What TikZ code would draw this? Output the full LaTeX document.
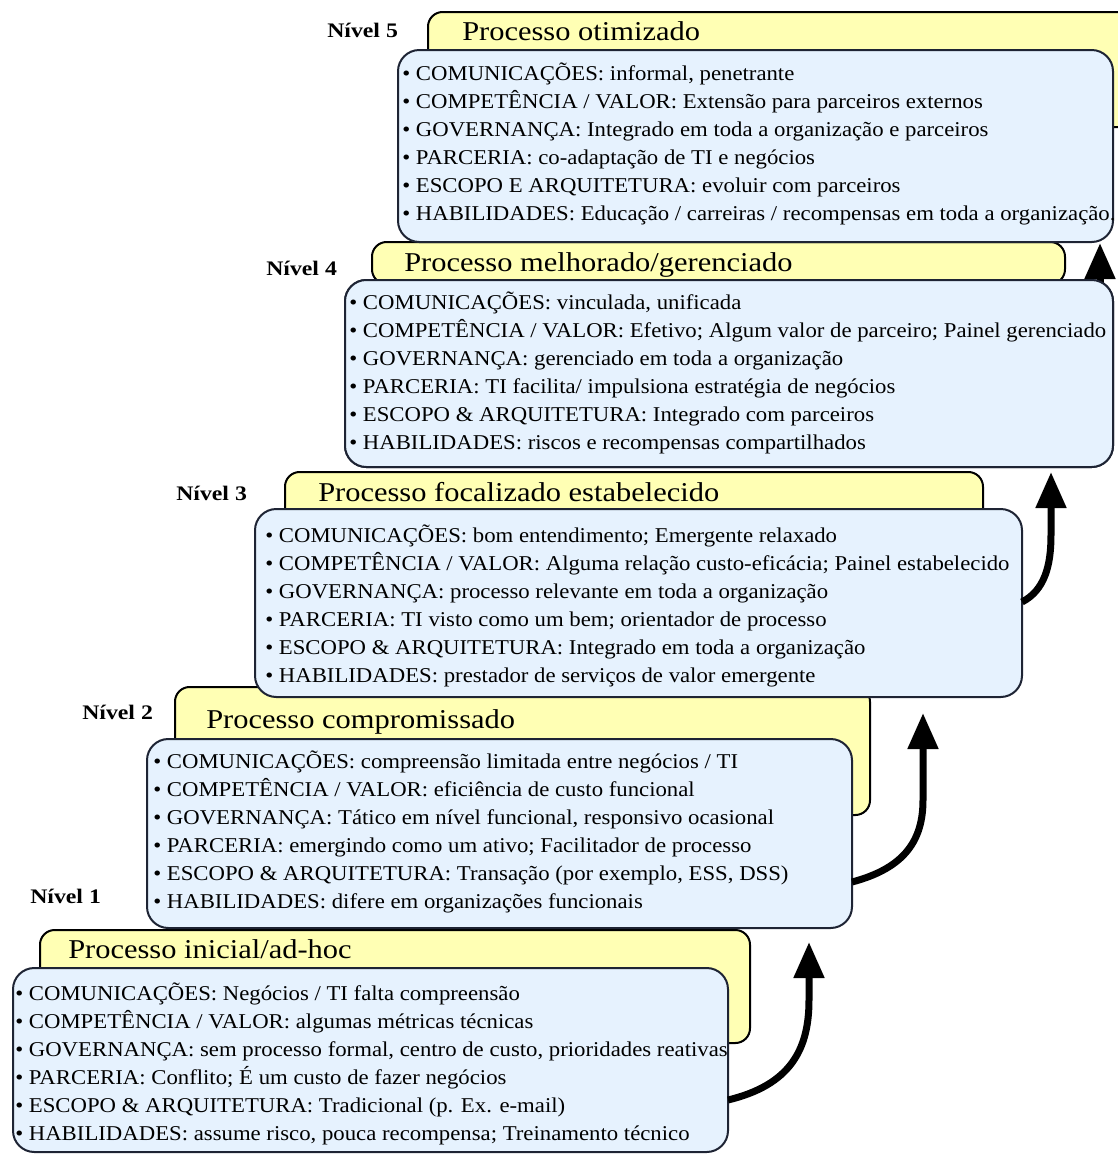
\documentclass[tikz,border=0pt]{standalone}
\usepackage{fontspec}
\setmainfont[FakeStretch=1.08]{Liberation Serif}
\newfontfamily\titlef[FakeStretch=1.12]{Liberation Serif}
\newfontfamily\lvlf[FakeStretch=1.15]{Liberation Serif}
\usetikzlibrary{arrows.meta,calc}
\definecolor{tabyellow}{RGB}{255,255,180}
\definecolor{boxblue}{RGB}{230,242,254}
\definecolor{edgedark}{RGB}{30,36,52}
\tikzset{
  tabbox/.style={draw=black, line width=1.5pt, fill=tabyellow, rounded corners=11pt, anchor=north west, inner sep=0pt, outer sep=0pt},
  itembox/.style={draw=edgedark, line width=1.5pt, fill=boxblue, rounded corners=16pt, anchor=north west, inner sep=0pt, outer sep=0pt},
  itemline/.style={anchor=base west, inner sep=0pt, font=\fontsize{15.8pt}{21pt}\selectfont},
  ttl/.style={anchor=base west, inner sep=0pt, font=\titlef\fontsize{20.4pt}{24pt}\selectfont},
  lvl/.style={anchor=base west, inner sep=0pt, font=\lvlf\bfseries\fontsize{15.5pt}{18pt}\selectfont},
  arr/.style={line width=5.25pt, -{Triangle[length=27pt,width=22pt]}}
}
\begin{document}
\begin{tikzpicture}[x=0.75pt,y=-0.75pt]
\useasboundingbox (0,0) rectangle (1118,1154);
\clip (0,0) rectangle (1118,1154);
% ---------- Level 1
\node[tabbox, minimum width=532.5pt, minimum height=84.75pt] (t1) at (40,930) {};
\node[ttl] (ttl1) at (68,958) {Processo inicial/ad-hoc};
\node[lvl] (n1) at (30,903) {Nível 1};
\node[itembox, minimum width=536.25pt, minimum height=138pt] (b1) at (13,968) {};
\foreach \t [count=\i from 0] in {
  {• COMUNICAÇÕES: Negócios / TI falta compreensão},
  {• COMPETÊNCIA / VALOR: algumas métricas técnicas},
  {• GOVERNANÇA: sem processo formal, centro de custo, prioridades reativas},
  {• PARCERIA: Conflito; É um custo de fazer negócios},
  {• ESCOPO \& ARQUITETURA: Tradicional (p. Ex. e-mail)},
  {• HABILIDADES: assume risco, pouca recompensa; Treinamento técnico}}
  \node[itemline] (l1-\i) at (15,{1000+28*\i}) {\t};
\coordinate (a1tip) at (809,942);
\draw[arr] ($(b1.south east)+(0,-52)$) .. controls (790,1085) and (809,1050) .. (809,1000) -- (a1tip);
% ---------- Level 2
\node[tabbox, minimum width=521.25pt, minimum height=96pt] (t2) at (175,687) {};
\node[ttl] (ttl2) at (206,728) {Processo compromissado};
\node[lvl] (n2) at (82,719) {Nível 2};
\node[itembox, minimum width=528.75pt, minimum height=141.75pt] (b2) at (147,739) {};
\foreach \t [count=\i from 0] in {
  {• COMUNICAÇÕES: compreensão limitada entre negócios / TI},
  {• COMPETÊNCIA / VALOR: eficiência de custo funcional},
  {• GOVERNANÇA: Tático em nível funcional, responsivo ocasional},
  {• PARCERIA: emergindo como um ativo; Facilitador de processo},
  {• ESCOPO \& ARQUITETURA: Transação (por exemplo, ESS, DSS)},
  {• HABILIDADES: difere em organizações funcionais}}
  \node[itemline] (l2-\i) at (153,{768+28*\i}) {\t};
\coordinate (a2tip) at (923,713);
\draw[arr] ($(b2.south east)+(0,-46)$) .. controls (905,868) and (923,840) .. (923,800) -- (a2tip);
% ---------- Level 3
\node[tabbox, minimum width=523.5pt, minimum height=52.5pt] (t3) at (285,472) {};
\node[ttl] (ttl3) at (318,501) {Processo focalizado estabelecido};
\node[lvl] (n3) at (176,500) {Nível 3};
\node[itembox, minimum width=575.25pt, minimum height=141pt] (b3) at (255,509) {};
\foreach \t [count=\i from 0] in {
  {• COMUNICAÇÕES: bom entendimento; Emergente relaxado},
  {• COMPETÊNCIA / VALOR: Alguma relação custo-eficácia; Painel estabelecido},
  {• GOVERNANÇA: processo relevante em toda a organização},
  {• PARCERIA: TI visto como um bem; orientador de processo},
  {• ESCOPO \& ARQUITETURA: Integrado em toda a organização},
  {• HABILIDADES: prestador de serviços de valor emergente}}
  \node[itemline] (l3-\i) at (265,{542+28*\i}) {\t};
\coordinate (a3tip) at (1051,472);
\draw[arr] ($(b3.south east)+(0,-95)$) .. controls (1045,590) and (1051,565) .. (1051,535) -- (a3tip);
% ---------- Level 4
\coordinate (a4tip) at (1100,243);
\node[tabbox, minimum width=519.75pt, minimum height=31.5pt] (t4) at (372,242) {};
\node[ttl] (ttl4) at (404,271) {Processo melhorado/gerenciado};
\node[lvl] (n4) at (266,275) {Nível 4};
\node[itembox, minimum width=576pt, minimum height=140.25pt] (b4) at (345,280) {};
\draw[arr] (a4tip |- b4.north) ++(0,25) -- (a4tip);
\node[itembox, minimum width=576pt, minimum height=140.25pt] (b4) at (345,280) {};
\foreach \t [count=\i from 0] in {
  {• COMUNICAÇÕES: vinculada, unificada},
  {• COMPETÊNCIA / VALOR: Efetivo; Algum valor de parceiro; Painel gerenciado},
  {• GOVERNANÇA: gerenciado em toda a organização},
  {• PARCERIA: TI facilita/ impulsiona estratégia de negócios},
  {• ESCOPO \& ARQUITETURA: Integrado com parceiros},
  {• HABILIDADES: riscos e recompensas compartilhados}}
  \node[itemline] (l4-\i) at (349,{309+28*\i}) {\t};
% ---------- Level 5
\node[tabbox, minimum width=534pt, minimum height=86.25pt] (t5) at (428,12) {};
\node[ttl] (ttl5) at (462,40) {Processo otimizado};
\node[lvl] (n5) at (327,37) {Nível 5};
\node[itembox, minimum width=536.25pt, minimum height=144pt] (b5) at (398,50) {};
\foreach \t [count=\i from 0] in {
  {• COMUNICAÇÕES: informal, penetrante},
  {• COMPETÊNCIA / VALOR: Extensão para parceiros externos},
  {• GOVERNANÇA: Integrado em toda a organização e parceiros},
  {• PARCERIA: co-adaptação de TI e negócios},
  {• ESCOPO E ARQUITETURA: evoluir com parceiros},
  {• HABILIDADES: Educação / carreiras / recompensas em toda a organização.}}
  \node[itemline] (l5-\i) at (402,{80+28*\i}) {\t};
\end{tikzpicture}
\end{document}
